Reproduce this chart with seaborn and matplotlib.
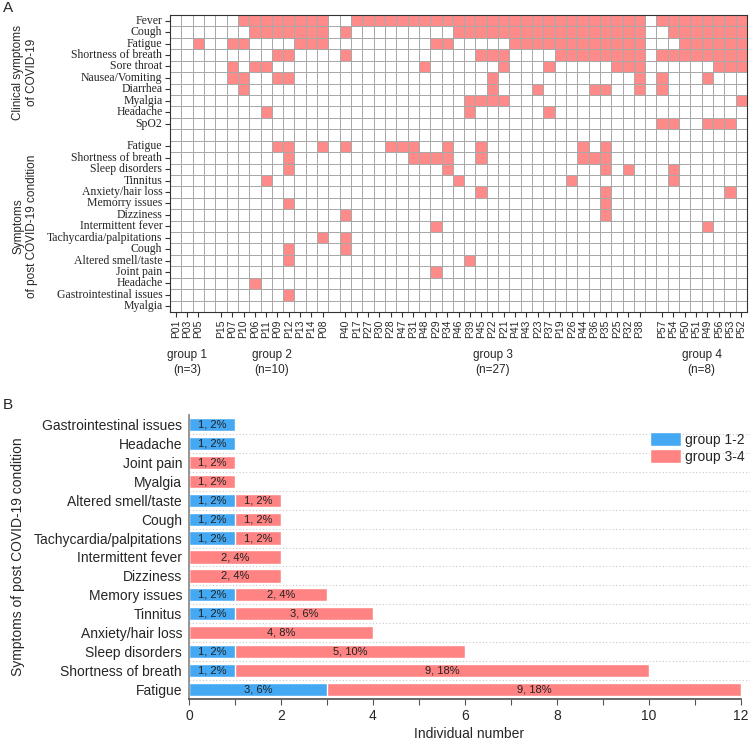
import numpy as np
import pandas as pd
import matplotlib
matplotlib.use("Agg")
import matplotlib.pyplot as plt
import seaborn as sns
from matplotlib.colors import ListedColormap


# Patients (column order of panel A)
group1 = ['P01', 'P03', 'P05']
group2 = ['P15', 'P07', 'P10', 'P06', 'P11', 'P09', 'P12', 'P13', 'P14', 'P08']
group3 = ['P40', 'P17', 'P27', 'P30', 'P28', 'P47', 'P31', 'P48', 'P29', 'P34',
          'P46', 'P39', 'P45', 'P22', 'P21', 'P41', 'P43', 'P23', 'P37', 'P19',
          'P26', 'P44', 'P36', 'P35', 'P25', 'P32', 'P38']
group4 = ['P57', 'P54', 'P50', 'P51', 'P49', 'P56', 'P53', 'P52']
group_labels = ['group 1\n(n=3)', 'group 2\n(n=10)', 'group 3\n(n=27)', 'group 4\n(n=8)']

# Clinical symptoms of COVID-19 -> patients with the symptom
acute_symptoms = ['Fever', 'Cough', 'Fatigue', 'Shortness of breath', 'Sore throat',
                  'Nausea/Vomiting', 'Diarrhea', 'Myalgia', 'Headache', 'SpO2']
acute_pos = {
    'Fever': ['P10', 'P06', 'P11', 'P09', 'P12', 'P13', 'P14', 'P08'] + group3[1:] + group4,
    'Cough': ['P06', 'P11', 'P09', 'P12', 'P13', 'P14', 'P08', 'P40'] + group3[10:] + group4[1:],
    'Fatigue': ['P05', 'P07', 'P10', 'P13', 'P14', 'P08', 'P29', 'P34'] + group3[15:] + group4[2:],
    'Shortness of breath': ['P09', 'P12', 'P40', 'P45', 'P22', 'P21'] + group3[19:] + group4,
    'Sore throat': ['P07', 'P06', 'P11', 'P48', 'P21', 'P37', 'P25', 'P32', 'P38', 'P56', 'P53', 'P52'],
    'Nausea/Vomiting': ['P07', 'P10', 'P09', 'P12', 'P22', 'P38', 'P57', 'P49'],
    'Diarrhea': ['P10', 'P22', 'P23', 'P36', 'P35', 'P38', 'P57'],
    'Myalgia': ['P39', 'P45', 'P22', 'P21', 'P52'],
    'Headache': ['P11', 'P39', 'P37'],
    'SpO2': ['P57', 'P54', 'P49', 'P56', 'P53'],
}

# Symptoms of post COVID-19 condition -> patients with the symptom
post_symptoms = ['Fatigue', 'Shortness of breath', 'Sleep disorders', 'Tinnitus',
                 'Anxiety/hair loss', 'Memorry issues', 'Dizziness', 'Intermittent fever',
                 'Tachycardia/palpitations', 'Cough', 'Altered smell/taste', 'Joint pain',
                 'Headache', 'Gastrointestinal issues', 'Myalgia']
post_pos = {
    'Fatigue': ['P09', 'P12', 'P08', 'P40', 'P28', 'P47', 'P31', 'P34', 'P45', 'P44', 'P35'],
    'Shortness of breath': ['P12', 'P31', 'P48', 'P29', 'P34', 'P45', 'P44', 'P36', 'P35'],
    'Sleep disorders': ['P12', 'P34', 'P35', 'P32', 'P54'],
    'Tinnitus': ['P11', 'P46', 'P26', 'P54'],
    'Anxiety/hair loss': ['P45', 'P35', 'P53'],
    'Memorry issues': ['P12', 'P35'],
    'Dizziness': ['P40', 'P35'],
    'Intermittent fever': ['P29', 'P49'],
    'Tachycardia/palpitations': ['P08', 'P40'],
    'Cough': ['P12', 'P40'],
    'Altered smell/taste': ['P12', 'P39'],
    'Joint pain': ['P29'],
    'Headache': ['P06'],
    'Gastrointestinal issues': ['P12'],
    'Myalgia': [],
}

# Panel B
bar_symptoms = ['Gastrointestinal issues', 'Headache', 'Joint pain', 'Myalgia',
                'Altered smell/taste', 'Cough', 'Tachycardia/palpitations',
                'Intermittent fever', 'Dizziness', 'Memory issues', 'Tinnitus',
                'Anxiety/hair loss', 'Sleep disorders', 'Shortness of breath', 'Fatigue']
g12_counts = [1, 1, 0, 0, 1, 1, 1, 0, 0, 1, 1, 0, 1, 1, 3]
g34_counts = [0, 0, 1, 1, 1, 1, 1, 2, 2, 2, 3, 4, 5, 9, 9]
g12_pct = [2, 2, 0, 0, 2, 2, 2, 0, 0, 2, 2, 0, 2, 2, 6]
g34_pct = [0, 0, 2, 2, 2, 2, 2, 4, 4, 4, 6, 8, 10, 18, 18]


sns.set_theme(style="white")
plt.rcParams['font.family'] = ['Liberation Sans', 'DejaVu Sans']

pink = '#FF8A8A'
bar_pink = '#FF8383'
blue = '#45A8F3'
dark = '#333333'

fig = plt.figure(figsize=(7.5, 7.4), dpi=100)


# ---- Panel A: heatmap ----
groups = [group1, group2, group3, group4]
cols = []
for i, g in enumerate(groups):
    if i > 0:
        cols.append('')  # gap column
    cols += g
rows = acute_symptoms + [''] + post_symptoms

mat = np.full((len(rows), len(cols)), np.nan)
for r, s in enumerate(rows):
    if s == '':
        continue
    pos = acute_pos[s] if r < len(acute_symptoms) else post_pos[s]
    for c, p in enumerate(cols):
        if p != '':
            mat[r, c] = 1 if p in pos else 0
mat = pd.DataFrame(mat)

axA = fig.add_axes([170 / 750, 1 - 312 / 740, 577 / 750, 297 / 740])
sns.heatmap(mat, ax=axA, cmap=ListedColormap(['white', pink]), vmin=0, vmax=1,
            cbar=False, linewidths=0.6, linecolor='#a8a8a8')

axA.set_xticks([c + 0.5 for c, p in enumerate(cols) if p])
axA.set_xticklabels([p for p in cols if p], rotation=90, fontsize=7.5)
axA.set_yticks([r + 0.5 for r, s in enumerate(rows) if s])
axA.set_yticklabels([s for s in rows if s], rotation=0, fontsize=8.5,
                    family='Liberation Serif')
axA.tick_params(axis='both', length=3.5, width=0.8, color=dark, direction='out',
                bottom=True, left=True, pad=2)
for sp in axA.spines.values():
    sp.set_visible(True)
    sp.set_color(dark)
    sp.set_linewidth(0.8)

# group labels under the columns
start = 0
for g, lab in zip(groups, group_labels):
    xc = start + len(g) / 2
    axA.text(xc, -0.125, lab, transform=axA.get_xaxis_transform(), ha='center',
             va='top', fontsize=8.5, linespacing=1.3)
    start += len(g) + 1

fig.text(25 / 750, 1 - 72 / 740, 'Clinical symptoms\nof COVID-19', rotation=90,
         ha='center', va='center', fontsize=8.5)
fig.text(25 / 750, 1 - 226 / 740, 'Symptoms\nof post COVID-19 condition', rotation=90,
         ha='center', va='center', fontsize=8.5)
fig.text(0.004, 0.998, 'A', ha='left', va='top', fontsize=11)


# ---- Panel B: stacked bars ----
df = pd.DataFrame({'symptom': bar_symptoms, 'g12': g12_counts, 'g34': g34_counts})
df['total'] = df['g12'] + df['g34']

axB = fig.add_axes([189 / 750, 1 - 699 / 740, 561 / 750, 284 / 740])
sns.barplot(data=df, y='symptom', x='total', order=bar_symptoms, color=bar_pink,
            saturation=1, width=0.7, errorbar=None, label='group 3-4', ax=axB)
sns.barplot(data=df, y='symptom', x='g12', order=bar_symptoms, color=blue,
            saturation=1, width=0.7, errorbar=None, label='group 1-2', ax=axB)

for i in range(len(bar_symptoms)):
    if g12_counts[i] > 0:
        axB.text(g12_counts[i] / 2, i, f"{g12_counts[i]}, {g12_pct[i]}%",
                 ha='center', va='center', fontsize=8, color='#222222')
    if g34_counts[i] > 0:
        axB.text(g12_counts[i] + g34_counts[i] / 2, i, f"{g34_counts[i]}, {g34_pct[i]}%",
                 ha='center', va='center', fontsize=8, color='#222222')

for i in range(len(bar_symptoms) - 1):
    axB.axhline(i + 0.5, color='#c8c8c8', lw=0.8, ls=(0, (1, 2)), zorder=0)

axB.set_xlim(0, 12.2)
axB.set_ylim(len(bar_symptoms) - 0.5, -0.5)
axB.set_xticks(range(0, 13, 2))
axB.set_xticks(range(1, 13, 2), minor=True)
axB.tick_params(axis='x', which='both', bottom=True, direction='out', length=4,
                width=0.8, color='#555555', labelsize=10, pad=3)
axB.tick_params(axis='y', length=0, labelsize=10, pad=5)
axB.set_ylabel('')
axB.set_xlabel('Individual number', fontsize=10, labelpad=3)
sns.despine(ax=axB)
axB.spines['bottom'].set_bounds(0, 12)
axB.spines['bottom'].set_color('#555555')
axB.spines['left'].set_color('#888888')

handles, labels = axB.get_legend_handles_labels()
order = [labels.index('group 1-2'), labels.index('group 3-4')]
axB.legend([handles[k] for k in order], [labels[k] for k in order],
           loc='upper right', bbox_to_anchor=(1.0, 0.96), frameon=False,
           fontsize=10, handlelength=2.2, handleheight=1.2, labelspacing=0.15,
           handletextpad=0.3, borderaxespad=0)

fig.text(18 / 750, 1 - 557 / 740, 'Symptoms of post COVID-19 condition', rotation=90,
         ha='center', va='center', fontsize=10)
fig.text(0.004, 1 - 398 / 740, 'B', ha='left', va='top', fontsize=11)

fig.savefig('out.png', dpi=100)
